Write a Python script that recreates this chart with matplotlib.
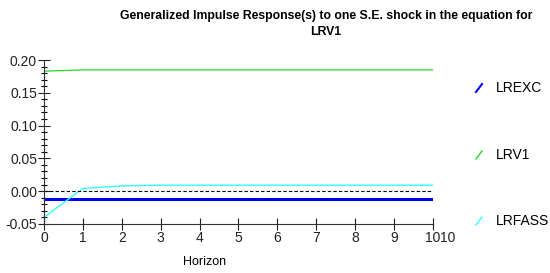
import numpy as np
import matplotlib.pyplot as plt
from matplotlib.lines import Line2D

plt.rcParams['font.family'] = ['Liberation Sans', 'DejaVu Sans']

# ----------------------------------
# Data
# ----------------------------------
horizon = np.arange(0, 11)
lrexc = [-0.012, -0.012, -0.012, -0.012, -0.012, -0.012,
         -0.012, -0.012, -0.012, -0.012, -0.012]
lrv1 = [0.183, 0.185, 0.185, 0.185, 0.185, 0.185,
        0.185, 0.185, 0.185, 0.185, 0.185]
lrfass = [-0.040, 0.004, 0.008, 0.009, 0.009, 0.009,
          0.009, 0.009, 0.009, 0.009, 0.009]

series = ["LREXC", "LRV1", "LRFASS"]
colors = ["#0000ee", "#22dd22", "#33ffff"]
widths = [2.2, 0.9, 1.0]

# ----------------------------------
# Figure
# ----------------------------------
fig = plt.figure(figsize=(5.5, 2.73), dpi=100)
ax = fig.add_axes([0.08, 0.18, 0.707, 0.60])

for vals, c, lw in zip([lrexc, lrv1, lrfass], colors, widths):
    ax.plot(horizon, vals, color=c, lw=lw)
ax.axhline(0, color="black", lw=0.8, ls=(0, (3, 2)))

ax.set_xlim(0, 10)
ax.set_ylim(-0.05, 0.20)
ax.set_xticks(range(0, 11))
ax.set_yticks(np.arange(-0.05, 0.201, 0.05))
ax.set_yticks(np.arange(-0.05, 0.201, 0.01), minor=True)
ax.set_yticklabels([f"{v:.2f}" for v in np.arange(-0.05, 0.201, 0.05)])
ax.tick_params(axis="both", which="major", direction="inout", length=8,
               width=0.8, labelsize=10, colors="#222222")
ax.tick_params(axis="y", which="minor", direction="inout", length=5, width=0.8)
ax.tick_params(axis="x", pad=1)
ax.tick_params(axis="y", pad=1)

for s in ["top", "right"]:
    ax.spines[s].set_visible(False)
for s in ["left", "bottom"]:
    ax.spines[s].set_linewidth(0.8)
    ax.spines[s].set_color("#333333")

# stray duplicate "10" next to the last tick label
ax.annotate("10", xy=(10, -0.05), xytext=(5, -5), textcoords="offset points",
            fontsize=10, ha="left", va="top", color="#222222")

fig.text(205 / 550, 1 - 262 / 273, "Horizon", fontsize=9, ha="center", va="center")

fig.text(0.593, 0.965, "Generalized Impulse Response(s) to one S.E. shock in the equation for",
         fontsize=8.8, fontweight="bold", ha="center", va="top")
fig.text(0.593, 0.905, "LRV1", fontsize=8.8, fontweight="bold", ha="center", va="top")

# legend on the right, drawn by hand
leg_y = [88, 155, 221]
for name, c, y in zip(series, colors, leg_y):
    yf = 1 - y / 273
    fig.add_artist(Line2D([476 / 550, 482 / 550], [yf - 4 / 273, yf + 4 / 273],
                          color=c, lw=1.5 if c == "#0000ee" else 1.0,
                          transform=fig.transFigure))
    fig.text(496 / 550, yf, name, fontsize=10, ha="left", va="center")

fig.savefig("out.png", dpi=100)
